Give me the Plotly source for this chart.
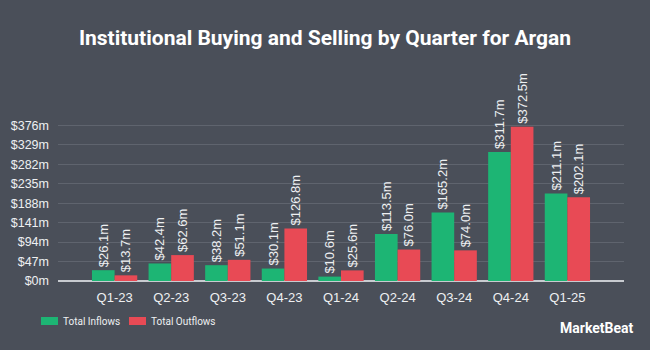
import plotly.graph_objects as go

quarters = ["Q1-23", "Q2-23", "Q3-23", "Q4-23", "Q1-24", "Q2-24", "Q3-24", "Q4-24", "Q1-25"]
inflows = [26.1, 42.4, 38.2, 30.1, 10.6, 113.5, 165.2, 311.7, 211.1]
outflows = [13.7, 62.6, 51.1, 126.8, 25.6, 76.0, 74.0, 372.5, 202.1]
tick_vals = [0, 47, 94, 141, 188, 235, 282, 329, 376]
tick_text = ["$0m", "$47m", "$94m", "$141m", "$188m", "$235m", "$282m", "$329m", "$376m"]
series_names = ["Total Inflows", "Total Outflows"]

BG = "#4a4f59"
GREEN = "#1db574"
RED = "#e84a55"
TXT = "#eef0f2"
W, H = 650, 350

fig = go.Figure()
for name, vals, col in [(series_names[0], inflows, GREEN), (series_names[1], outflows, RED)]:
    fig.add_trace(go.Bar(
        x=list(range(len(quarters))), y=vals, name=name,
        marker=dict(color=col, line=dict(width=0)),
        text=[f"${v:.1f}m" for v in vals], textposition="outside", textangle=-90,
        constraintext="none",
        textfont=dict(color=TXT, size=13, family="Liberation Sans"), cliponaxis=True,
    ))

fig.update_layout(
    width=W, height=H,
    paper_bgcolor=BG, plot_bgcolor=BG,
    margin=dict(l=58, r=26, t=74, b=69, autoexpand=False),
    barmode="group", bargap=0.2, bargroupgap=0,
    title=dict(text="<b>Institutional Buying and Selling by Quarter for Argan</b>",
               x=0.5, xanchor="center", xref="container", y=1 - 38 / H, yanchor="middle", yref="container",
               font=dict(family="Roboto", size=21, color="#ffffff")),
    font=dict(family="Liberation Sans", color=TXT),
    showlegend=False,
)
fig.update_xaxes(
    range=[-1, 9], tickmode="array", tickvals=list(range(len(quarters))), ticktext=quarters,
    showgrid=False, zeroline=False, showline=False, ticks="",
    tickfont=dict(size=13, color=TXT), ticklabelstandoff=7, fixedrange=True,
)
fig.update_yaxes(
    range=[0, 500], tickmode="array", tickvals=tick_vals, ticktext=tick_text,
    showgrid=True, gridcolor="#5f646e", gridwidth=1,
    zeroline=True, zerolinecolor="#c8cbd0", zerolinewidth=2,
    showline=False, ticks="", tickfont=dict(size=12.5, color=TXT), ticklabelstandoff=8,
    fixedrange=True,
)

# custom legend (swatches + real text)
legend_items = [(series_names[0], GREEN, 41), (series_names[1], RED, 129)]
for name, col, x0 in legend_items:
    fig.add_shape(type="rect", xref="paper", yref="paper",
                  x0=(x0 - 58) / 566, x1=(x0 + 17 - 58) / 566,
                  y0=-(325 - 281) / 207, y1=-(317 - 281) / 207,
                  fillcolor=col, line=dict(width=0), layer="above")
    fig.add_annotation(text=name, xref="paper", yref="paper",
                       x=(x0 + 20 - 58) / 566, y=-(321 - 281) / 207,
                       xanchor="left", yanchor="middle", showarrow=False,
                       font=dict(size=10, color=TXT, family="Roboto"))

fig.add_annotation(
    text="<b>MarketBeat</b>", xref="paper", yref="paper", x=(636 - 58) / 566, y=-(328 - 281) / 207,
    xanchor="right", yanchor="middle", showarrow=False,
    font=dict(size=14, color="#ffffff", family="Roboto"),
)

fig.write_html("out.html")
